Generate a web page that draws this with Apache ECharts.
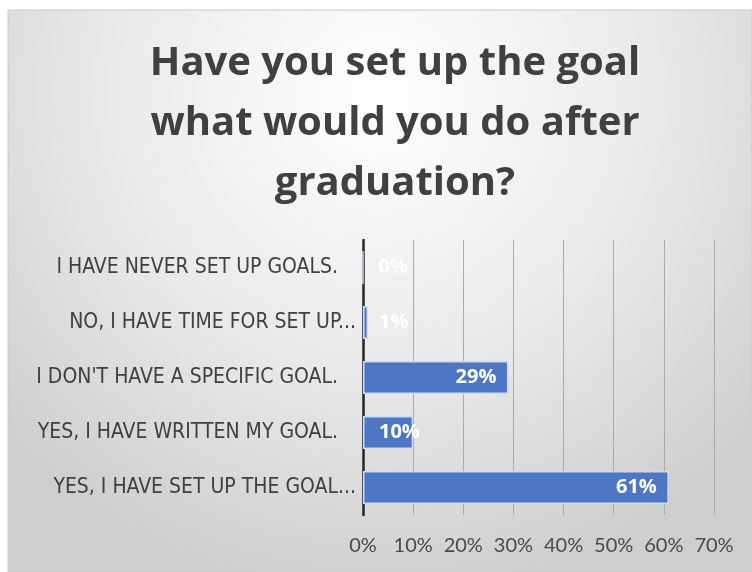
<!DOCTYPE html>
<html>
<head>
<meta charset="utf-8">
<script src="https://cdn.jsdelivr.net/npm/echarts@6/dist/echarts.min.js"></script>
<style>
  html, body { margin: 0; padding: 0; background: #ffffff; }
  #chart { width: 752px; height: 572px; }
</style>
</head>
<body>
<div id="chart"></div>
<script>
// Survey answers, listed bottom-to-top as they appear on the category axis
const categories = [
  'YES, I HAVE SET UP THE GOAL...',
  'YES, I HAVE WRITTEN MY GOAL.',
  "I DON'T HAVE A SPECIFIC GOAL.",
  'NO, I HAVE TIME FOR SET UP...',
  'I HAVE NEVER SET UP GOALS.'
];
const shares = [61, 10, 29, 1, 0];           // percent of respondents
const xTicks = [0, 10, 20, 30, 40, 50, 60, 70]; // value axis ticks (%)

const chart = echarts.init(document.getElementById('chart'), null, { renderer: 'canvas' });

// short bars get their label pushed just past the axis line
const barData = shares.map(v => ({
  value: v,
  label: v < 15
    ? { position: 'insideLeft', distance: 16 }
    : { position: 'insideRight', distance: 12 }
}));

const labelFont = '"DejaVu Sans Condensed", Lato, sans-serif';

chart.setOption({
  backgroundColor: '#ffffff',
  animation: false,
  graphic: [{
    type: 'rect',
    shape: { x: 8, y: 10, width: 744, height: 562 },
    silent: true,
    z: -10,
    style: {
      fill: new echarts.graphic.RadialGradient(0.5, 0.15, 0.9, [
        { offset: 0, color: '#ffffff' },
        { offset: 0.55, color: '#e9e9e9' },
        { offset: 1, color: '#cecece' }
      ]),
      stroke: '#c8c8c8',
      lineWidth: 1
    }
  }],
  title: {
    text: 'Have you set up the goal\nwhat would you do after\ngraduation?',
    left: 390,
    textAlign: 'center',
    top: 29,
    textStyle: {
      fontFamily: 'Open Sans',
      fontWeight: 'bold',
      fontSize: 40,
      lineHeight: 60,
      color: '#404040'
    }
  },
  grid: { left: 363, right: 38, top: 240, bottom: 57, containLabel: false },
  xAxis: {
    type: 'value',
    min: xTicks[0],
    max: xTicks[xTicks.length - 1],
    interval: xTicks[1] - xTicks[0],
    axisLine: { show: false },
    axisTick: { show: false },
    splitLine: { show: true, lineStyle: { color: '#ababab', width: 1 } },
    axisLabel: {
      formatter: '{value}%',
      margin: 21,
      fontFamily: 'Lato',
      fontSize: 20,
      color: '#4a4a4a'
    }
  },
  yAxis: {
    type: 'category',
    data: categories,
    axisLine: { show: true, lineStyle: { color: '#262626', width: 2.5 } },
    axisTick: { show: false },
    axisLabel: {
      margin: 7,
      // truncated answers sit closer to the axis than the complete ones
      formatter: t => t.endsWith('...') ? '{e|' + t + '}' : '{n|' + t + '}',
      rich: {
        n: { fontFamily: labelFont, fontSize: 21, color: '#404040', padding: [0, 18, 0, 0] },
        e: { fontFamily: labelFont, fontSize: 21, color: '#404040' }
      }
    }
  },
  series: [{
    type: 'bar',
    data: barData,
    barWidth: '60%',
    itemStyle: { color: '#4d77c5', borderColor: '#cddcf2', borderWidth: 1.5 },
    label: {
      show: true,
      formatter: '{c}%',
      color: '#ffffff',
      fontFamily: 'Open Sans',
      fontWeight: 'bold',
      fontSize: 20
    }
  }]
});
</script>
</body>
</html>
